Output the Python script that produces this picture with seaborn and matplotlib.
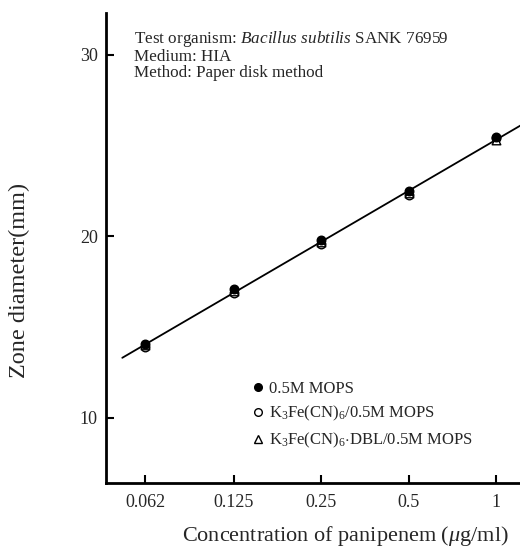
import numpy as np
import pandas as pd
import matplotlib
matplotlib.use("Agg")
import matplotlib.pyplot as plt
from matplotlib.lines import Line2D
import seaborn as sns

conc = [0.062, 0.125, 0.25, 0.5, 1]
tick_labels = ["0.062", "0.125", "0.25", "0.5", "1"]
mops = [14.1, 17.1, 19.8, 22.5, 25.5]
ferri = [13.9, 16.9, 19.6, 22.3, 25.4]
ferri_dbl = [14.0, 17.0, 19.7, 22.4, 25.3]
series_names = ["0.5M MOPS", "K$_3$Fe(CN)$_6$/0.5M MOPS", "K$_3$Fe(CN)$_6$$\\cdot$DBL/0.5M MOPS"]

sns.set_style("white")
plt.rcParams["font.family"] = ["Liberation Serif", "DejaVu Serif"]
plt.rcParams["mathtext.fontset"] = "custom"
plt.rcParams["mathtext.rm"] = "Liberation Serif"
plt.rcParams["mathtext.it"] = "Liberation Serif:italic"
plt.rcParams["mathtext.bf"] = "Liberation Serif:bold"

fig = plt.figure(figsize=(5.2, 5.53), dpi=100)
ax = fig.add_axes([0.204, 0.1266, 0.796, 0.85])

lx = np.log2(conc)
df = pd.DataFrame({
    "x": np.concatenate([lx, lx, lx]),
    "y": mops + ferri + ferri_dbl,
    "s": sum([[n] * len(conc) for n in series_names], []),
})

xmin, xmax = np.log2(0.062) - 0.445, 0.27
ax.set_xlim(xmin, xmax)
ax.set_ylim(6.42, 32.31)

# least-squares line through all points
slope, icpt = np.polyfit(df["x"], df["y"], 1)
fx = np.array([lx[0] - 0.26, xmax + 0.1])
sns.lineplot(x=fx, y=slope * fx + icpt, color="black", lw=1.3, ax=ax, zorder=1)

styles = [("o", "black"), ("o", "white"), ("^", "white")]
for name, (m, fc) in zip(series_names, styles):
    sub = df[df["s"] == name]
    sns.scatterplot(data=sub, x="x", y="y", marker=m, s=38, facecolor=fc,
                    edgecolor="black", linewidth=1.0, ax=ax, zorder=3 if fc == "black" else 2)

ax.set_xticks(lx)
ax.set_xticklabels(tick_labels, fontsize=13)
ax.set_yticks([10, 20, 30])
ax.set_yticklabels(["10", "20", "30"], fontsize=13)
ax.tick_params(axis="both", bottom=True, left=True, direction="in", length=6, width=1.5,
               color="black", pad=8)
ax.tick_params(axis="y", pad=6)
for side in ["top", "right"]:
    ax.spines[side].set_visible(False)
for side in ["left", "bottom"]:
    ax.spines[side].set_linewidth(2)
    ax.spines[side].set_color("black")
ax.set_xlabel("")
ax.set_ylabel("")

fig.text(0.038, 0.492, "Zone diameter(mm)", rotation=90, fontsize=17.5, ha="center", va="center")
fig.text(0.665, 0.03, "Concentration of panipenem ($\\mu$g/ml)", fontsize=16, ha="center", va="center")

ax.text(0.068, 0.965, "Test organism: $\\it{Bacillus\\ subtilis}$ SANK 76959\nMedium: HIA\nMethod: Paper disk method",
        transform=ax.transAxes, fontsize=12.3, va="top", ha="left", linespacing=0.98)

handles = [Line2D([], [], ls="none", marker=m, markersize=5.5, markerfacecolor=fc,
                  markeredgecolor="black", markeredgewidth=1.0) for m, fc in styles]
ax.legend(handles, series_names, loc="upper left", bbox_to_anchor=(0.33, 0.232), frameon=False,
          fontsize=12, handletextpad=0.2, handlelength=1.0, labelspacing=0.45, borderaxespad=0)

fig.savefig("out.png", dpi=100)
